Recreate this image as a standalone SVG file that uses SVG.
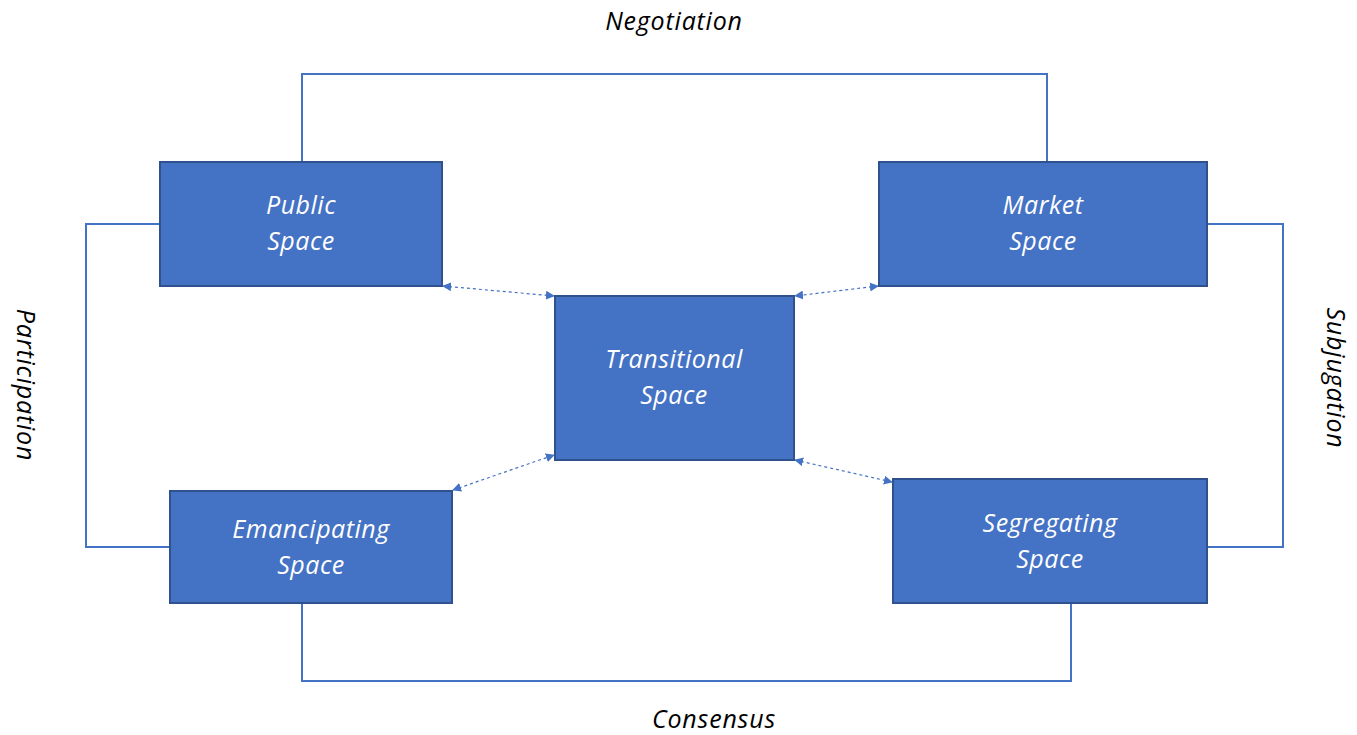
<svg xmlns="http://www.w3.org/2000/svg" width="1357" height="735" viewBox="0 0 1357 735">
<defs>
<style>
.box{fill:#4472C4;stroke:#2F528F;stroke-width:2}
.lbl{font-family:"Open Sans","Liberation Sans",Arial,sans-serif;font-style:italic;font-size:25px;letter-spacing:0.5px;fill:#FFFFFF;text-anchor:middle}
.cap{font-family:"Open Sans","Liberation Sans",Arial,sans-serif;font-style:italic;font-size:25px;letter-spacing:0.8px;fill:#000000;text-anchor:middle}
.conn{fill:none;stroke:#4472C4;stroke-width:2}
.dash{fill:none;stroke:#4472C4;stroke-width:1.2;stroke-dasharray:3 3;marker-start:url(#ah);marker-end:url(#ah)}
</style>
<marker id="ah" viewBox="0 0 10 10" refX="9" refY="5" markerWidth="9" markerHeight="9" markerUnits="userSpaceOnUse" orient="auto-start-reverse">
<path d="M0,0 L10,5 L0,10 z" fill="#4472C4"/>
</marker>
</defs>
<rect width="1357" height="735" fill="#FFFFFF"/>
<g id="connectors">
<polyline class="conn" points="302,162 302,74 1047,74 1047,162"/>
<polyline class="conn" points="160,224 86,224 86,547 170,547"/>
<polyline class="conn" points="1207,224 1283,224 1283,547 1207,547"/>
<polyline class="conn" points="302,603 302,681 1071,681 1071,603"/>
<line class="dash" x1="443" y1="286" x2="554" y2="296"/>
<line class="dash" x1="878" y1="286" x2="795" y2="296"/>
<line class="dash" x1="453" y1="490" x2="554" y2="455"/>
<line class="dash" x1="795" y1="460" x2="892" y2="482"/>
</g>
<g id="public">
<rect class="box" x="160" y="162" width="282" height="124"/>
<text class="lbl" x="301" y="214">Public</text>
<text class="lbl" x="301" y="250">Space</text>
</g>
<g id="market">
<rect class="box" x="879" y="162" width="328" height="124"/>
<text class="lbl" x="1043" y="214">Market</text>
<text class="lbl" x="1043" y="250">Space</text>
</g>
<g id="transitional">
<rect class="box" x="555" y="296" width="239" height="164"/>
<text class="lbl" x="674" y="368">Transitional</text>
<text class="lbl" x="674" y="404">Space</text>
</g>
<g id="emancipating">
<rect class="box" x="170" y="491" width="282" height="112"/>
<text class="lbl" x="311" y="538">Emancipating</text>
<text class="lbl" x="311" y="574">Space</text>
</g>
<g id="segregating">
<rect class="box" x="893" y="479" width="314" height="124"/>
<text class="lbl" x="1050" y="532">Segregating</text>
<text class="lbl" x="1050" y="568">Space</text>
</g>
<g id="labels">
<text class="cap" x="674" y="30">Negotiation</text>
<text class="cap" x="714" y="728">Consensus</text>
<text class="cap" transform="translate(17,385) rotate(90)">Participation</text>
<text class="cap" transform="translate(1327,378) rotate(90)">Subjugation</text>
</g>
</svg>
